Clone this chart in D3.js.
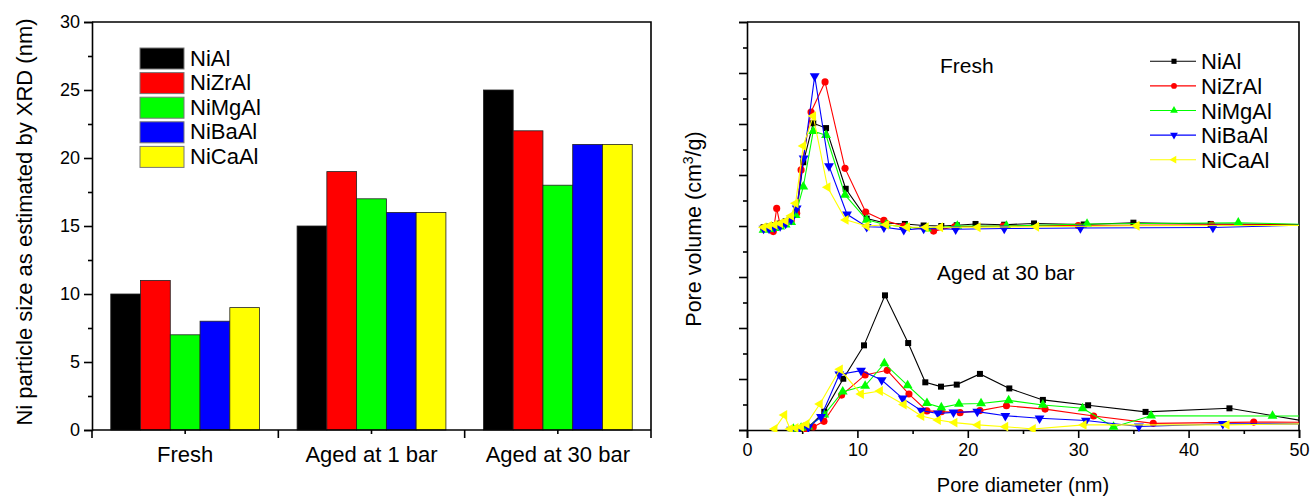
<!DOCTYPE html>
<html>
<head>
<meta charset="utf-8">
<script src="https://cdn.jsdelivr.net/npm/d3@7"></script>
<style>
  body { margin: 0; background: #fff; }
  text { font-family: "Liberation Sans", Arial, sans-serif; fill: #000; }
</style>
</head>
<body>
<div id="chart"></div>
<script>
// ---- data ----
const samples = ["NiAl", "NiZrAl", "NiMgAl", "NiBaAl", "NiCaAl"];
const colors = ["#000000", "#ff0000", "#00ff00", "#0000ff", "#ffff00"];
const conditions = ["Fresh", "Aged at 1 bar", "Aged at 30 bar"];

// Ni particle size (nm) per condition, in sample order
const sizeFresh = [10, 11, 7, 8, 9];
const sizeAged1 = [15, 19, 17, 16, 16];
const sizeAged30 = [25, 22, 18, 21, 21];

const barTicks = [0, 5, 10, 15, 20, 25, 30];
const poreTicks = [0, 10, 20, 30, 40, 50];

// pore size distributions: [diameter nm, pore volume (axis units)]
const freshNiAl = [[1.5,-0.05],[2.0,-0.02],[2.5,0.03],[3.0,0.1],[3.5,0.18],[4.0,0.3],[4.5,0.55],[5.1,2.5],[6.0,4.03],[7.16,3.84],[8.94,1.46],[10.84,0.29],[12.5,0.12],[14.3,0.08],[16.0,0.02],[17.6,0.0],[19.0,0.03],[20.7,0.08],[23.3,0.05],[26.0,0.1],[30.5,0.06],[35.0,0.13],[42.0,0.08],[52.0,0.05]];
const freshNiZrAl = [[1.5,-0.08],[2.0,-0.1],[2.38,-0.22],[2.69,0.69],[3.0,0.05],[3.5,0.1],[4.0,0.2],[4.5,0.5],[4.9,2.2],[5.8,4.47],[7.07,5.65],[8.88,2.26],[10.75,0.55],[12.4,0.22],[14.2,0.0],[16.9,-0.2],[18.8,-0.03],[23.2,0.0],[30.0,0.02],[42.1,0.05],[52.0,0.05]];
const freshNiMgAl = [[1.5,-0.15],[2.0,-0.12],[2.5,-0.08],[3.0,-0.03],[3.5,0.05],[4.0,0.15],[4.4,0.43],[5.1,1.54],[6.0,3.72],[7.16,3.56],[8.88,1.22],[10.84,0.24],[12.6,0.05],[14.5,-0.05],[16.3,-0.1],[19.05,0.0],[23.5,0.0],[30.8,0.08],[44.5,0.13],[52.0,0.05]];
const freshNiBaAl = [[1.5,-0.1],[2.0,-0.1],[2.5,-0.05],[3.0,0.0],[3.5,0.1],[4.0,0.25],[4.5,0.69],[5.13,2.65],[6.13,5.88],[7.43,2.35],[9.06,0.46],[10.84,-0.03],[12.4,-0.05],[14.2,-0.15],[16.0,-0.1],[18.9,-0.13],[23.3,-0.1],[30.2,-0.08],[42.2,-0.06],[52.0,0.05]];
const freshNiCaAl = [[1.5,-0.05],[2.0,0.0],[2.5,0.05],[3.0,0.1],[3.5,0.2],[4.0,0.4],[4.4,0.89],[5.1,3.14],[6.0,4.31],[7.3,1.52],[8.94,0.24],[10.84,0.0],[12.6,0.05],[14.5,-0.05],[16.2,-0.05],[17.5,-0.05],[20.9,-0.05],[26.2,-0.03],[35.3,0.01],[52.0,0.02]];

const agedNiAl = [[4.8,0.05],[5.6,0.12],[7.0,0.72],[8.72,2.01],[10.6,3.32],[12.5,5.28],[14.6,3.41],[16.15,1.87],[17.57,1.7],[19.0,1.78],[21.1,2.2],[23.76,1.63],[26.8,1.18],[30.9,0.97],[36.1,0.71],[43.7,0.85],[52.0,0.24]];
const agedNiZrAl = [[4.5,0.02],[5.3,0.05],[6.0,0.12],[6.97,0.34],[8.57,1.37],[10.7,2.16],[12.7,2.34],[14.67,1.41],[16.3,0.75],[17.6,0.72],[19.3,0.68],[21.1,0.76],[23.5,0.95],[27.0,0.82],[31.4,0.55],[36.8,0.26],[45.9,0.31],[52.0,0.3]];
const agedNiMgAl = [[4.2,0.04],[4.9,0.08],[5.55,0.13],[7.0,0.6],[8.67,1.5],[10.7,1.73],[12.44,2.61],[14.55,1.75],[16.3,1.05],[17.6,0.88],[19.2,1.02],[21.2,1.04],[23.7,1.16],[26.8,0.98],[30.4,0.85],[33.2,0.12],[36.6,0.56],[47.6,0.55],[52.0,0.55]];
const agedNiBaAl = [[4.0,0.02],[4.7,0.06],[5.55,0.1],[6.7,0.52],[8.36,2.18],[10.33,2.33],[12.2,1.96],[14.1,1.24],[15.8,0.76],[17.3,0.65],[18.7,0.69],[20.86,0.72],[23.4,0.56],[26.5,0.46],[30.7,0.37],[35.5,0.14],[43.1,0.24],[52.0,0.24]];
const agedNiCaAl = [[2.5,0.04],[3.38,0.59],[3.9,0.04],[4.4,0.08],[4.9,0.12],[5.4,0.24],[6.6,1.02],[8.42,2.38],[10.33,1.41],[12.05,1.53],[14.2,1.0],[15.8,0.55],[17.3,0.39],[18.8,0.29],[20.9,0.2],[23.4,0.13],[25.9,0.04],[30.5,0.2],[43.45,0.2],[52.0,0.25]];

const freshOffset = 8; // fresh curves are stacked above the aged ones

// ---- setup ----
const W = 1311, H = 497;
const svg = d3.select("#chart").append("svg").attr("width", W).attr("height", H);
const axisW = 1.6;

// ================= left: bar chart =================
const L = { left: 92, right: 651, top: 22, bottom: 430 };
const sizes = [sizeFresh, sizeAged1, sizeAged30];
const barData = conditions.map((c, i) => ({ cond: c, values: sizes[i] }));

const x0 = d3.scaleBand().domain(conditions).range([L.left, L.right]).padding(0);
const x1 = d3.scaleBand().domain(samples).range([0, x0.bandwidth()]).paddingInner(0).paddingOuter(0.63);
const yBar = d3.scaleLinear().domain([0, 30]).range([L.bottom, L.top]);

const left = svg.append("g");
const groups = left.selectAll("g.grp").data(barData).enter().append("g")
  .attr("transform", d => `translate(${x0(d.cond)},0)`);
groups.selectAll("rect").data(d => d.values.map((v, i) => ({ s: samples[i], v, c: colors[i] })))
  .enter().append("rect")
  .attr("x", d => x1(d.s))
  .attr("y", d => yBar(d.v))
  .attr("width", x1.bandwidth())
  .attr("height", d => yBar(0) - yBar(d.v))
  .attr("fill", d => d.c)
  .attr("stroke", "#222")
  .attr("stroke-width", 0.8);

// y axis
left.append("g").attr("transform", `translate(${L.left},0)`)
  .call(d3.axisLeft(yBar).tickValues(barTicks).tickSize(8).tickPadding(4));
left.append("g").attr("transform", `translate(${L.left},0)`)
  .call(d3.axisLeft(yBar).tickValues(d3.range(2.5, 30, 5)).tickSize(4).tickFormat(""))
  .call(g => g.select(".domain").remove());
// x axis: long ticks at group edges, short ticks at centres
const edges = [L.left, ...conditions.map(c => x0(c) + x0.bandwidth())];
const xAxisL = left.append("g").attr("transform", `translate(0,${L.bottom})`);
xAxisL.append("line").attr("x1", L.left).attr("x2", L.right).attr("stroke", "#000").attr("stroke-width", axisW);
xAxisL.selectAll("line.edge").data(edges).enter().append("line")
  .attr("x1", d => d).attr("x2", d => d).attr("y1", 0).attr("y2", 8)
  .attr("stroke", "#000").attr("stroke-width", axisW);
xAxisL.selectAll("line.mid").data(conditions).enter().append("line")
  .attr("x1", d => x0(d) + x0.bandwidth() / 2).attr("x2", d => x0(d) + x0.bandwidth() / 2)
  .attr("y1", 0).attr("y2", 4).attr("stroke", "#000").attr("stroke-width", axisW);
xAxisL.selectAll("text").data(conditions).enter().append("text")
  .attr("x", d => x0(d) + x0.bandwidth() / 2).attr("y", 32)
  .attr("text-anchor", "middle").style("font-size", "22px").text(d => d);
// frame
left.append("path").attr("d", `M${L.left},${L.top}H${L.right}V${L.bottom}`)
  .attr("fill", "none").attr("stroke", "#000").attr("stroke-width", axisW);

left.append("text").attr("transform", `translate(32,${(L.top + L.bottom) / 2 - 4}) rotate(-90)`)
  .attr("text-anchor", "middle").style("font-size", "22px")
  .text("Ni particle size as estimated by XRD (nm)");

// legend
const legL = left.append("g").attr("transform", "translate(140,48)");
samples.forEach((s, i) => {
  const g = legL.append("g").attr("transform", `translate(0,${i * 24.6})`);
  g.append("rect").attr("width", 44).attr("height", 21).attr("fill", colors[i])
    .attr("stroke", "#777").attr("stroke-width", 1);
  g.append("text").attr("x", 50).attr("y", 17.5).style("font-size", "22px").text(s);
});

// ================= right: pore size distribution =================
const R = { left: 747, right: 1299, top: 22, bottom: 430 };
const xPore = d3.scaleLinear().domain([0, 50]).range([R.left, R.right]);
const yPore = d3.scaleLinear().domain([0, 16]).range([R.bottom, R.top]);

const right = svg.append("g");
svg.append("defs").append("clipPath").attr("id", "clipR")
  .append("rect").attr("x", R.left).attr("y", R.top - 10).attr("width", R.right - R.left).attr("height", R.bottom - R.top + 12);

right.append("g").attr("transform", `translate(0,${R.bottom})`)
  .call(d3.axisBottom(xPore).tickValues(poreTicks).tickSize(8).tickPadding(5));
right.append("g").attr("transform", `translate(0,${R.bottom})`)
  .call(d3.axisBottom(xPore).tickValues(d3.range(5, 50, 10)).tickSize(4).tickFormat(""))
  .call(g => g.select(".domain").remove());
right.append("g").attr("transform", `translate(${R.left},0)`)
  .call(d3.axisLeft(yPore).tickValues(d3.range(0, 17, 2)).tickSize(8).tickFormat(""));
right.append("g").attr("transform", `translate(${R.left},0)`)
  .call(d3.axisLeft(yPore).tickValues(d3.range(1, 16, 2)).tickSize(4).tickFormat(""))
  .call(g => g.select(".domain").remove());
right.append("path").attr("d", `M${R.left},${R.top}H${R.right}V${R.bottom}`)
  .attr("fill", "none").attr("stroke", "#000").attr("stroke-width", axisW);

const freshSets = [freshNiAl, freshNiZrAl, freshNiMgAl, freshNiBaAl, freshNiCaAl];
const agedSets = [agedNiAl, agedNiZrAl, agedNiMgAl, agedNiBaAl, agedNiCaAl];
const shapes = [
  { t: d3.symbolSquare, r: 0, a: 36 },
  { t: d3.symbolCircle, r: 0, a: 40 },
  { t: d3.symbolTriangle, r: 0, a: 42 },
  { t: d3.symbolTriangle, r: 180, a: 42 },
  { t: d3.symbolTriangle, r: -90, a: 42 }
];
const line = d3.line().x(d => xPore(d[0])).y(d => yPore(d[1]));
const plot = right.append("g").attr("clip-path", "url(#clipR)");

function drawSet(sets, offset) {
  sets.forEach((pts, i) => {
    const p = pts.map(d => [d[0], d[1] + offset]);
    plot.append("path").datum(p).attr("d", line)
      .attr("fill", "none").attr("stroke", colors[i]).attr("stroke-width", 1.1);
    plot.selectAll(null).data(p).enter().append("path")
      .attr("transform", d => `translate(${xPore(d[0])},${yPore(d[1])}) rotate(${shapes[i].r})`)
      .attr("d", d3.symbol(shapes[i].t, shapes[i].a))
      .attr("fill", colors[i]);
  });
}
drawSet(agedSets, 0);
drawSet(freshSets, freshOffset);

right.append("text").attr("x", 940).attr("y", 73).style("font-size", "21px").text("Fresh");
right.append("text").attr("x", 937).attr("y", 280).style("font-size", "21px").text("Aged at 30 bar");

right.append("text").attr("transform", `translate(701,${(R.top + R.bottom) / 2 + 3}) rotate(-90)`)
  .attr("text-anchor", "middle").style("font-size", "21.5px")
  .call(t => {
    t.append("tspan").text("Pore volume (cm");
    t.append("tspan").attr("dy", -8).style("font-size", "14px").text("3");
    t.append("tspan").attr("dy", 8).text("/g)");
  });
right.append("text").attr("x", (R.left + R.right) / 2).attr("y", 492)
  .attr("text-anchor", "middle").style("font-size", "20px").text("Pore diameter (nm)");

// legend
const legR = right.append("g").attr("transform", "translate(1150,61.3)");
samples.forEach((s, i) => {
  const g = legR.append("g").attr("transform", `translate(0,${i * 24.6})`);
  g.append("line").attr("x1", 0).attr("x2", 46).attr("stroke", colors[i]).attr("stroke-width", 1.1);
  g.append("path").attr("transform", `translate(24,0) rotate(${shapes[i].r})`)
    .attr("d", d3.symbol(shapes[i].t, 26)).attr("fill", colors[i]);
  g.append("text").attr("x", 51).attr("y", 8).style("font-size", "22px").text(s);
});

svg.selectAll(".domain").attr("stroke-width", axisW);
svg.selectAll(".tick line").attr("stroke-width", axisW);
svg.selectAll(".tick text").style("font-size", "18px").attr("fill", "#000");
</script>
</body>
</html>
